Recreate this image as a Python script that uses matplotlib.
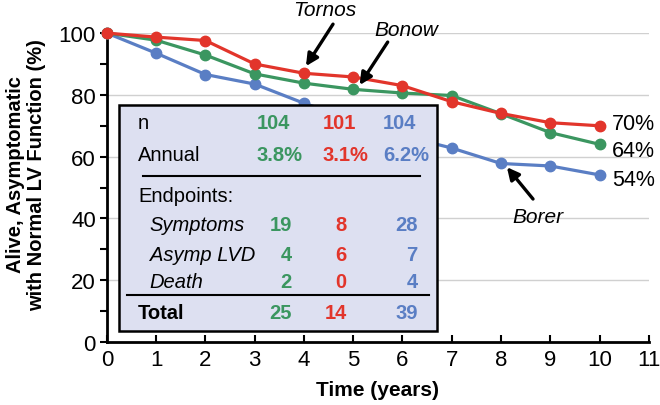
import numpy as np
import matplotlib.pyplot as plt
from matplotlib.patches import Rectangle

plt.rcParams['font.family'] = ['Liberation Sans', 'DejaVu Sans']

# survival curves, % alive asymptomatic with normal LV function
years = np.arange(0, 11)
tornos = [100, 98.7, 97.6, 90.0, 87.0, 85.8, 83.0, 77.8, 74.0, 71.0, 70.0]
bonow = [100, 97.7, 92.9, 86.8, 83.8, 81.8, 80.6, 79.8, 73.9, 67.8, 64.0]
borer = [100, 93.5, 86.6, 83.5, 77.3, 72.0, 66.8, 62.8, 57.8, 57.0, 54.1]

# table values
cols_n = ['104', '101', '104']
cols_annual = ['3.8%', '3.1%', '6.2%']
endpoint_names = ['Symptoms', 'Asymp LVD', 'Death']
endpoint_vals = [['19', '8', '28'], ['4', '6', '7'], ['2', '0', '4']]
totals = ['25', '14', '39']
end_labels = ['70%', '64%', '54%']

red = '#e2352b'
green = '#3b9660'
blue = '#5a7ec4'
col_colors = [green, red, blue]

fig = plt.figure(figsize=(6.6, 4.06), dpi=100)
ax = fig.add_axes([0.162, 0.155, 0.821, 0.761])

ax.set_xlim(0, 11)
ax.set_ylim(0, 100)

for ys, c in [(borer, blue), (bonow, green), (tornos, red)]:
    ax.plot(years, ys, color=c, lw=2.3, marker='o', ms=7.5, zorder=3, clip_on=False)

ax.set_xticks(range(0, 12))
ax.set_yticks(range(0, 101, 20))
ax.set_yticks(range(10, 100, 20), minor=True)
ax.tick_params(axis='x', direction='in', length=5, width=1.5, labelsize=16, pad=5)
ax.tick_params(axis='y', which='both', direction='out', length=5, width=1.5, labelsize=16, pad=3)
ax.spines['top'].set_visible(False)
ax.spines['right'].set_visible(False)
ax.spines['left'].set_linewidth(2)
ax.spines['bottom'].set_linewidth(2)
for y in range(20, 101, 20):
    ax.axhline(y, color='#d0d0d0', lw=1, zorder=1)

ax.set_xlabel('Time (years)', fontsize=15, fontweight='bold', labelpad=7)
fig.text(0.040, 0.57, 'Alive, Asymptomatic\nwith Normal LV Function (%)', rotation=90,
         ha='center', va='center', fontsize=14.5, fontweight='bold', linespacing=1.15)

# table box
ax.add_patch(Rectangle((0.24, 3.6), 6.47, 73.1, facecolor='#dde0f1', edgecolor='black',
                       lw=1.8, zorder=5))
tk = dict(fontsize=14.5, zorder=6, va='center')
ax.text(0.63, 71.2, 'n', **tk)
ax.text(0.63, 60.8, 'Annual', **tk)
ax.text(0.63, 47.6, 'Endpoints:', **tk)
ax.text(0.63, 9.7, 'Total', fontweight='bold', **tk)
left_x = [3.04, 4.38, 5.60]
right_x = [3.75, 4.87, 6.31]
for i in range(3):
    ax.text(left_x[i], 71.2, cols_n[i], color=col_colors[i], fontweight='bold', ha='left', **tk)
    ax.text(left_x[i], 60.8, cols_annual[i], color=col_colors[i], fontweight='bold', ha='left', **tk)
    ax.text(right_x[i], 9.7, totals[i], color=col_colors[i], fontweight='bold', ha='right', **tk)
row_y = [37.9, 28.2, 19.7]
for r, name in enumerate(endpoint_names):
    ax.text(0.87, row_y[r], name, style='italic', **tk)
    for i in range(3):
        ax.text(right_x[i], row_y[r], endpoint_vals[r][i], color=col_colors[i],
                fontweight='bold', ha='right', **tk)
ax.plot([0.73, 6.35], [53.7, 53.7], color='black', lw=1.5, zorder=6)
ax.plot([0.41, 6.54], [15.2, 15.2], color='black', lw=1.5, zorder=6)

# study labels with arrows
ap = dict(arrowstyle='-|>', color='black', lw=2.4, mutation_scale=18, shrinkA=0, shrinkB=0)
ax.annotate('', xy=(4.04, 89.3), xytext=(4.59, 102.9), arrowprops=ap, annotation_clip=False)
ax.text(4.42, 107.8, 'Tornos', style='italic', fontsize=15, ha='center', va='center')
ax.annotate('', xy=(5.13, 83.2), xytext=(5.70, 97.1), arrowprops=ap, annotation_clip=False)
ax.text(6.07, 101.3, 'Bonow', style='italic', fontsize=15, ha='center', va='center')
ax.annotate('', xy=(8.12, 56.6), xytext=(8.65, 46.3), arrowprops=ap, annotation_clip=False)
ax.text(8.75, 40.5, 'Borer', style='italic', fontsize=15, ha='center', va='center')

# end-of-follow-up labels
for lab, y in zip(end_labels, [70.9, 62.1, 52.7]):
    ax.text(10.25, y, lab, fontsize=15.5, va='center')

fig.savefig('out.png', dpi=100)
